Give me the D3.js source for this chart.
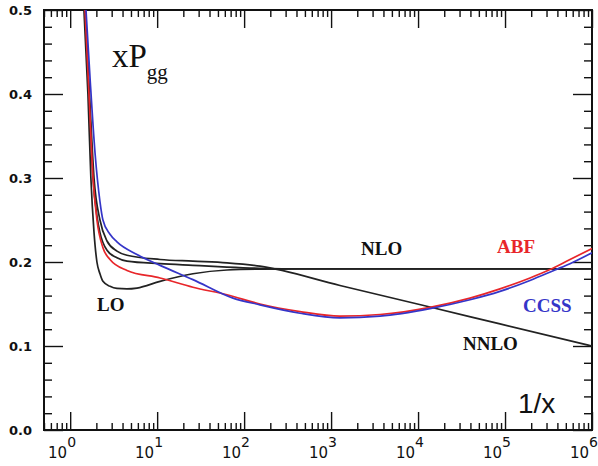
<!DOCTYPE html>
<html>
<head>
<meta charset="utf-8">
<script src="https://cdn.jsdelivr.net/npm/d3@7"></script>
<style>
  body { margin: 0; background: #fff; }
  svg { display: block; }
</style>
</head>
<body>
<div id="main"></div>
<script>
// values of 1/x and xPgg, one pair of arrays per curve
const loX = [1.44, 1.6, 1.73, 1.88, 2.03, 2.2, 2.38, 2.87, 3.45, 4.5, 5.86, 10.8, 25.8, 63.5, 152, 439, 1e6];
const loY = [0.5, 0.40, 0.30, 0.235, 0.20, 0.186, 0.177, 0.171, 0.1685, 0.168, 0.169, 0.177, 0.186, 0.1905, 0.1915, 0.1917, 0.1917];

const nloX = [1.48, 1.645, 1.83, 2.03, 2.2, 2.65, 3.45, 4.5, 10.8, 25.8, 63.5, 152, 439, 1e6];
const nloY = [0.5, 0.40, 0.30, 0.255, 0.235, 0.214, 0.205, 0.201, 0.198, 0.196, 0.194, 0.1925, 0.1917, 0.1917];

const nnloX = [1.48, 1.667, 1.88, 2.2, 2.65, 3.45, 4.5, 10.8, 25.8, 63.5, 152, 1266, 13710, 87500, 1e6];
const nnloY = [0.5, 0.40, 0.30, 0.25, 0.225, 0.213, 0.208, 0.203, 0.201, 0.199, 0.195, 0.172, 0.1464, 0.1263, 0.1];

const abfX = [1.48, 1.645, 1.83, 2.03, 2.38, 2.87, 4.5, 10.8, 25.8, 63.5, 152, 439, 1266, 3650, 13710, 39550, 87500, 193600, 328800, 558400, 1e6];
const abfY = [0.5, 0.40, 0.30, 0.25, 0.217, 0.203, 0.19, 0.181, 0.170, 0.161, 0.150, 0.141, 0.1355, 0.1375, 0.146, 0.157, 0.168, 0.181, 0.191, 0.203, 0.216];

const ccssX = [1.52, 1.69, 1.93, 2.2, 2.38, 2.87, 3.45, 5.86, 10.8, 25.8, 74.5, 152, 439, 1266, 3650, 13710, 39550, 87500, 193600, 375300, 558400, 1e6];
const ccssY = [0.5, 0.42, 0.33, 0.272, 0.25, 0.233, 0.224, 0.209, 0.196, 0.179, 0.157, 0.149, 0.139, 0.1335, 0.1355, 0.1445, 0.155, 0.165, 0.178, 0.1905, 0.198, 0.211];

const xMajor = [1, 10, 100, 1000, 10000, 100000, 1000000];
const xExponents = ["0", "1", "2", "3", "4", "5", "6"];
const yMajor = [0, 0.1, 0.2, 0.3, 0.4, 0.5];

const width = 598, height = 466;
const plotLeft = 44, plotRight = 592, plotTop = 10, plotBottom = 430;

const svg = d3.select('#main').append('svg')
    .attr('width', width)
    .attr('height', height);

const x = d3.scaleLog().domain([0.5, 1e6]).range([plotLeft, plotRight]);
const y = d3.scaleLinear().domain([0, 0.5]).range([plotBottom, plotTop]);

// minor ticks
const xMinor = [];
for (let e = -1; e < 6; e++) {
    for (let m = 2; m <= 9; m++) {
        const v = m * Math.pow(10, e);
        if (v >= 0.5 && v < 1e6) xMinor.push(v);
    }
}
const yMinor = d3.range(0, 0.5001, 0.02).filter(v => Math.abs(v * 10 - Math.round(v * 10)) > 1e-6);

function drawAxis(axis, tx, ty) {
    const g = svg.append('g')
        .attr('transform', 'translate(' + tx + ',' + ty + ')')
        .call(axis);
    g.select('.domain').remove();
    g.selectAll('line').attr('stroke', '#111').attr('stroke-width', 1.4);
    return g;
}

drawAxis(d3.axisBottom(x).tickValues(xMajor).tickSize(-18).tickFormat(''), 0, plotBottom);
drawAxis(d3.axisBottom(x).tickValues(xMinor).tickSize(-7).tickFormat(''), 0, plotBottom);
drawAxis(d3.axisTop(x).tickValues(xMajor).tickSize(-18).tickFormat(''), 0, plotTop);
drawAxis(d3.axisTop(x).tickValues(xMinor).tickSize(-7).tickFormat(''), 0, plotTop);

const yAxisG = drawAxis(d3.axisLeft(y).tickValues(yMajor).tickSize(-19).tickPadding(12).tickFormat(d3.format('.1f')), plotLeft, 0);
yAxisG.selectAll('text')
    .attr('font-family', 'DejaVu Sans')
    .attr('font-weight', 'bold')
    .attr('font-size', 13)
    .attr('fill', '#111');
drawAxis(d3.axisLeft(y).tickValues(yMinor).tickSize(-8).tickFormat(''), plotLeft, 0);
drawAxis(d3.axisRight(y).tickValues(yMajor).tickSize(-19).tickFormat(''), plotRight, 0);
drawAxis(d3.axisRight(y).tickValues(yMinor).tickSize(-8).tickFormat(''), plotRight, 0);

// x tick labels 10^n
const xl = svg.append('g').attr('font-family', 'DejaVu Sans').attr('fill', '#111');
xMajor.forEach(function (v, i) {
    xl.append('text')
        .attr('x', x(v) - 3)
        .attr('y', 458)
        .attr('text-anchor', 'end')
        .attr('font-size', 15)
        .text('10');
    xl.append('text')
        .attr('x', x(v) - 3)
        .attr('y', 447)
        .attr('font-size', 14)
        .text(xExponents[i]);
});

// frame
svg.append('rect')
    .attr('x', plotLeft).attr('y', plotTop)
    .attr('width', plotRight - plotLeft).attr('height', plotBottom - plotTop)
    .attr('fill', 'none')
    .attr('stroke', '#111')
    .attr('stroke-width', 2);

svg.append('clipPath').attr('id', 'plot')
    .append('rect')
    .attr('x', plotLeft).attr('y', plotTop)
    .attr('width', plotRight - plotLeft).attr('height', plotBottom - plotTop);

const line = d3.line()
    .x(d => x(d[0]))
    .y(d => y(d[1]))
    .curve(d3.curveMonotoneX);

const curves = [
    {xs: loX, ys: loY, color: '#222'},
    {xs: nloX, ys: nloY, color: '#222'},
    {xs: nnloX, ys: nnloY, color: '#222'},
    {xs: abfX, ys: abfY, color: '#e8262a'},
    {xs: ccssX, ys: ccssY, color: '#3535c8'}
];

const plot = svg.append('g').attr('clip-path', 'url(#plot)');
curves.forEach(function (c) {
    plot.append('path')
        .datum(d3.zip(c.xs, c.ys))
        .attr('d', line)
        .attr('fill', 'none')
        .attr('stroke', c.color)
        .attr('stroke-width', 1.7);
});

// curve labels
const labels = [
    {text: 'LO', px: 97, py: 311, color: '#111'},
    {text: 'NLO', px: 361, py: 255, color: '#111'},
    {text: 'NNLO', px: 463, py: 350, color: '#111'},
    {text: 'ABF', px: 497, py: 253, color: '#e8262a'},
    {text: 'CCSS', px: 523, py: 312, color: '#3535c8'}
];
svg.append('g').selectAll('text')
    .data(labels)
    .enter()
    .append('text')
    .attr('x', d => d.px)
    .attr('y', d => d.py)
    .attr('font-family', 'Liberation Serif')
    .attr('font-weight', 'bold')
    .attr('font-size', 19)
    .attr('fill', d => d.color)
    .text(d => d.text);

// axis title 1/x
svg.append('text')
    .attr('x', 518)
    .attr('y', 413)
    .attr('font-family', 'Liberation Sans')
    .attr('font-size', 28)
    .attr('fill', '#111')
    .text('1/x');

// xPgg
const title = svg.append('text')
    .attr('x', 112)
    .attr('y', 67)
    .attr('font-family', 'Liberation Serif')
    .attr('font-size', 33)
    .attr('fill', '#111');
title.append('tspan').text('xP');
title.append('tspan').attr('font-size', 21).attr('dy', 12).text('gg');
</script>
</body>
</html>
